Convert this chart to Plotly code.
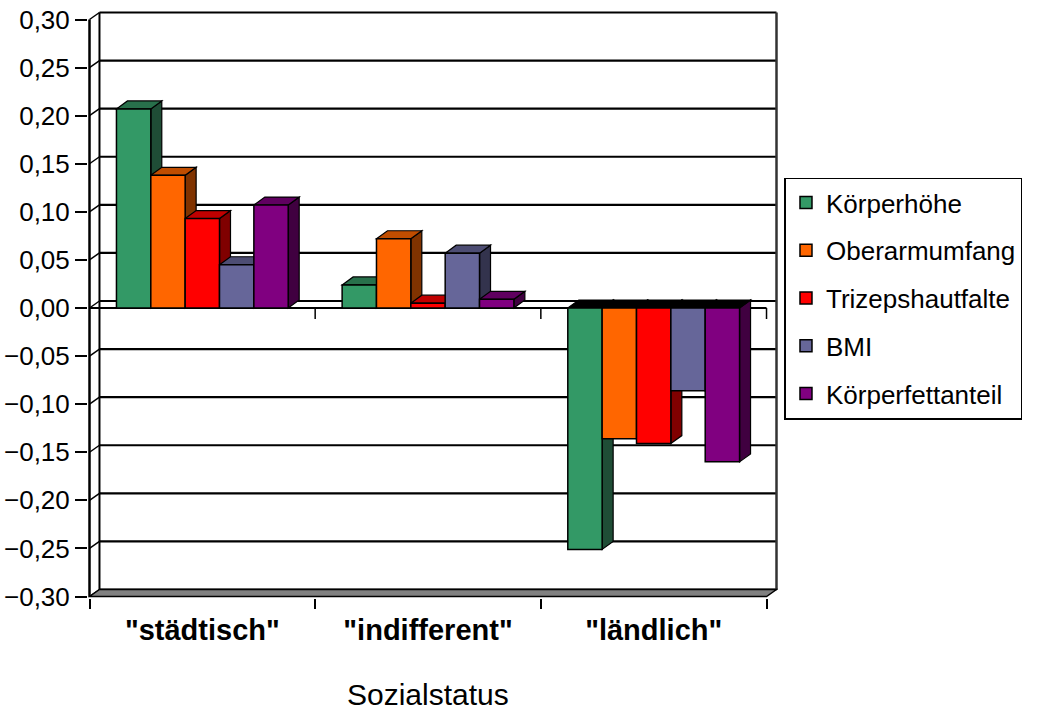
import plotly.graph_objects as go

# ---------------- data ----------------
categories = ['"städtisch"', '"indifferent"', '"ländlich"']
series_names = ["Körperhöhe", "Oberarmumfang", "Trizepshautfalte", "BMI", "Körperfettanteil"]
koerperhoehe = [0.207, 0.024, -0.251]
oberarmumfang = [0.138, 0.072, -0.136]
trizepshautfalte = [0.093, 0.005, -0.141]
bmi = [0.045, 0.057, -0.086]
koerperfettanteil = [0.107, 0.009, -0.160]
y_tick_values = [-0.30, -0.25, -0.20, -0.15, -0.10, -0.05, 0.00, 0.05, 0.10, 0.15, 0.20, 0.25, 0.30]
x_title = "Sozialstatus"

series_values = [koerperhoehe, oberarmumfang, trizepshautfalte, bmi, koerperfettanteil]

# ---------------- styles ----------------
front_colors = ["#339966", "#FF6600", "#FF0000", "#666699", "#800080"]
top_colors = ["#28704B", "#C04D00", "#C00000", "#4D4D73", "#600060"]
side_colors = ["#1F4D36", "#803300", "#800000", "#33334D", "#400040"]

W, H = 1050, 713
front_left, front_right = 89, 767          # pixel x of category range [-0.5, 2.5]
front_top, front_bottom = 20, 597          # pixel y of value range [0.30, -0.30]
px_per_cat = (front_right - front_left) / 3.0
px_per_unit = (front_bottom - front_top) / 0.6

wall_dx = 10 / px_per_cat                  # back-wall offset in data units
wall_dy = 7 / px_per_unit
bar_dx = 11 / px_per_cat                   # bar depth offset
bar_dy = 8 / px_per_unit
eps_x = 1.5 / px_per_cat
eps_y = 1.5 / px_per_unit

x_range = [-0.5 - eps_x, 2.5 + wall_dx + eps_x]
y_range = [-0.3 - eps_y, 0.3 + wall_dy + eps_y]
plot_left = front_left - 1.5
plot_right = front_left + (x_range[1] + 0.5) * px_per_cat
plot_top = front_top - (y_range[1] - 0.3) * px_per_unit
plot_bottom = front_bottom + 1.5

group_w = 172 / px_per_cat
bw = group_w / len(series_names)

fig = go.Figure()
shapes = []

def poly(pts, fill, lw=1.0, lc="black"):
    d = "M " + " L ".join(f"{x},{y}" for x, y in pts) + " Z"
    return dict(type="path", path=d, xref="x", yref="y", fillcolor=fill,
                line=dict(color=lc, width=lw), layer="below")

def line(x0, y0, x1, y1, w=1.5, c="black"):
    return dict(type="line", x0=x0, y0=y0, x1=x1, y1=y1, xref="x", yref="y",
                line=dict(color=c, width=w), layer="below")

# back wall + floor
shapes.append(poly([(-0.5 + wall_dx, -0.3 + wall_dy), (-0.5 + wall_dx, 0.3 + wall_dy),
                    (2.5 + wall_dx, 0.3 + wall_dy), (2.5 + wall_dx, -0.3 + wall_dy)], "white", 0))
for v in y_tick_values:
    shapes.append(line(-0.5 + wall_dx, v + wall_dy, 2.5 + wall_dx, v + wall_dy, 2.2))
    shapes.append(line(-0.5, v, -0.5 + wall_dx, v + wall_dy, 1.5))
shapes.append(line(-0.5 + wall_dx, -0.3 + wall_dy, -0.5 + wall_dx, 0.3 + wall_dy, 2))
shapes.append(line(2.5 + wall_dx, -0.3 + wall_dy, 2.5 + wall_dx, 0.3 + wall_dy, 2.5, "#333333"))
shapes.append(poly([(-0.5, -0.3), (-0.5 + wall_dx, -0.3 + wall_dy),
                    (2.5 + wall_dx, -0.3 + wall_dy), (2.5, -0.3)], "#808080", 1.5))
shapes.append(line(-0.5, -0.3, -0.5, 0.3, 2.5))
# category axis at zero
shapes.append(line(-0.5, 0, 2.5, 0, 2))
for xb in [0.5, 1.5, 2.5]:
    shapes.append(line(xb, 0, xb, -11 / px_per_unit, 1.5))

# 3D faces of the bars
for ci in range(len(categories)):
    for si, vals in enumerate(series_values):
        v = vals[ci]
        x0 = ci - group_w / 2 + si * bw
        x1 = x0 + bw
        if v >= 0:
            shapes.append(poly([(x1, 0), (x1 + bar_dx, bar_dy), (x1 + bar_dx, v + bar_dy), (x1, v)],
                               side_colors[si], 1.2))
            shapes.append(poly([(x0, v), (x0 + bar_dx, v + bar_dy), (x1 + bar_dx, v + bar_dy), (x1, v)],
                               top_colors[si], 1.2))
        else:
            shapes.append(poly([(x1, v), (x1 + bar_dx, v + bar_dy), (x1 + bar_dx, bar_dy), (x1, 0)],
                               side_colors[si], 1.2))
            shapes.append(poly([(x0, 0), (x0 + bar_dx, bar_dy), (x1 + bar_dx, bar_dy), (x1, 0)],
                               "#000000", 1.2))

for si, (name, vals) in enumerate(zip(series_names, series_values)):
    fig.add_trace(go.Bar(
        x=[0, 1, 2], y=vals, name=name, width=bw,
        offset=-group_w / 2 + si * bw,
        marker=dict(color=front_colors[si], line=dict(color="black", width=1.5)),
        legendgroup=name, hoverinfo="skip",
    ))

plot_w = plot_right - plot_left
plot_h = plot_bottom - plot_top

fig.update_layout(
    width=W, height=H,
    margin=dict(l=plot_left, r=W - plot_right, t=plot_top, b=H - plot_bottom, pad=0,
                autoexpand=False),
    paper_bgcolor="white", plot_bgcolor="rgba(0,0,0,0)",
    barmode="overlay",
    separators=",.",
    font=dict(family="Liberation Sans, Arial, sans-serif", color="black"),
    shapes=shapes,
    showlegend=True,
    legend=dict(
        x=(785 - plot_left) / plot_w, y=(plot_bottom - 178) / plot_h,
        xanchor="left", yanchor="top",
        bordercolor="black", borderwidth=1.5, bgcolor="white",
        font=dict(size=26, color="black"),
        traceorder="grouped", tracegroupgap=11,
    ),
    xaxis=dict(
        range=x_range, showgrid=False, zeroline=False, showline=False,
        automargin=False,
        tickmode="array", tickvals=[0, 1, 2],
        ticktext=[f"<b>{c}</b>" for c in categories],
        ticks="", tickfont=dict(size=29, color="black"),
        ticklabelstandoff=12,
        minor=dict(tickmode="array", tickvals=[-0.5, 0.5, 1.5, 2.5], ticks="outside",
                   ticklen=10, tickwidth=1.5, tickcolor="black", showgrid=False),
        fixedrange=True,
    ),
    yaxis=dict(
        range=y_range, showgrid=False, zeroline=False, showline=False,
        automargin=False,
        tickmode="array", tickvals=y_tick_values, tickformat=".2f",
        ticks="outside", ticklen=12, tickwidth=1.5, tickcolor="black",
        tickfont=dict(size=26, color="black"),
        fixedrange=True,
    ),
    annotations=[dict(text=x_title, x=1.0, xref="x", y=-0.3, yref="y",
                      yshift=-98, showarrow=False, font=dict(size=30, color="black"))],
)

fig.write_html("out.html")
